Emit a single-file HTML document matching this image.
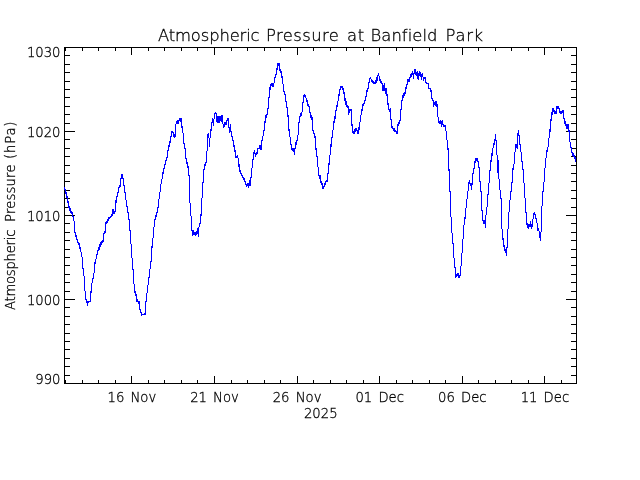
<!DOCTYPE html>
<html lang="en"><head><meta charset="utf-8"><title>Atmospheric Pressure at Banfield Park</title>
<style>
html,body{margin:0;padding:0;background:#fff;}
body{width:640px;height:480px;position:relative;overflow:hidden;font-family:"DejaVu Sans Light","DejaVu Sans","Liberation Sans",sans-serif;font-weight:200;color:#000;-webkit-text-stroke:0.3px #000;}
#frame{position:absolute;left:64px;top:47px;width:511px;height:335px;border:1px solid #000;box-sizing:content-box;}
.t{position:absolute;background:#000;}
.l{position:absolute;white-space:nowrap;line-height:1;font-size:13.2px;}
.yl{text-align:right;width:60px;left:0.5px;}
.xl{text-align:center;width:80px;word-spacing:2px;}
#title span{position:absolute;white-space:nowrap;line-height:1;font-size:16.4px;top:27.5px;}
#ylab{position:absolute;left:0;top:0;width:0;height:0;}
#ylab span{position:absolute;white-space:nowrap;line-height:1;font-size:13.2px;transform-origin:0 0;transform:rotate(-90deg);}
svg{position:absolute;left:0;top:0;}
#txt{position:absolute;left:0;top:0;width:640px;height:480px;will-change:transform;}
</style></head><body>
<div id="frame"></div>
<div id="txt">
<div class="t" style="left:65px;top:47px;width:1px;height:4px"></div>
<div class="t" style="left:65px;top:380px;width:1px;height:4px"></div>
<div class="t" style="left:82px;top:47px;width:1px;height:4px"></div>
<div class="t" style="left:82px;top:380px;width:1px;height:4px"></div>
<div class="t" style="left:98px;top:47px;width:1px;height:4px"></div>
<div class="t" style="left:98px;top:380px;width:1px;height:4px"></div>
<div class="t" style="left:115px;top:47px;width:1px;height:4px"></div>
<div class="t" style="left:115px;top:380px;width:1px;height:4px"></div>
<div class="t" style="left:131px;top:47px;width:1px;height:8px"></div>
<div class="t" style="left:131px;top:376px;width:1px;height:8px"></div>
<div class="t" style="left:148px;top:47px;width:1px;height:4px"></div>
<div class="t" style="left:148px;top:380px;width:1px;height:4px"></div>
<div class="t" style="left:164px;top:47px;width:1px;height:4px"></div>
<div class="t" style="left:164px;top:380px;width:1px;height:4px"></div>
<div class="t" style="left:181px;top:47px;width:1px;height:4px"></div>
<div class="t" style="left:181px;top:380px;width:1px;height:4px"></div>
<div class="t" style="left:197px;top:47px;width:1px;height:4px"></div>
<div class="t" style="left:197px;top:380px;width:1px;height:4px"></div>
<div class="t" style="left:214px;top:47px;width:1px;height:8px"></div>
<div class="t" style="left:214px;top:376px;width:1px;height:8px"></div>
<div class="t" style="left:231px;top:47px;width:1px;height:4px"></div>
<div class="t" style="left:231px;top:380px;width:1px;height:4px"></div>
<div class="t" style="left:247px;top:47px;width:1px;height:4px"></div>
<div class="t" style="left:247px;top:380px;width:1px;height:4px"></div>
<div class="t" style="left:264px;top:47px;width:1px;height:4px"></div>
<div class="t" style="left:264px;top:380px;width:1px;height:4px"></div>
<div class="t" style="left:280px;top:47px;width:1px;height:4px"></div>
<div class="t" style="left:280px;top:380px;width:1px;height:4px"></div>
<div class="t" style="left:297px;top:47px;width:1px;height:8px"></div>
<div class="t" style="left:297px;top:376px;width:1px;height:8px"></div>
<div class="t" style="left:313px;top:47px;width:1px;height:4px"></div>
<div class="t" style="left:313px;top:380px;width:1px;height:4px"></div>
<div class="t" style="left:330px;top:47px;width:1px;height:4px"></div>
<div class="t" style="left:330px;top:380px;width:1px;height:4px"></div>
<div class="t" style="left:346px;top:47px;width:1px;height:4px"></div>
<div class="t" style="left:346px;top:380px;width:1px;height:4px"></div>
<div class="t" style="left:363px;top:47px;width:1px;height:4px"></div>
<div class="t" style="left:363px;top:380px;width:1px;height:4px"></div>
<div class="t" style="left:379px;top:47px;width:1px;height:8px"></div>
<div class="t" style="left:379px;top:376px;width:1px;height:8px"></div>
<div class="t" style="left:396px;top:47px;width:1px;height:4px"></div>
<div class="t" style="left:396px;top:380px;width:1px;height:4px"></div>
<div class="t" style="left:412px;top:47px;width:1px;height:4px"></div>
<div class="t" style="left:412px;top:380px;width:1px;height:4px"></div>
<div class="t" style="left:429px;top:47px;width:1px;height:4px"></div>
<div class="t" style="left:429px;top:380px;width:1px;height:4px"></div>
<div class="t" style="left:445px;top:47px;width:1px;height:4px"></div>
<div class="t" style="left:445px;top:380px;width:1px;height:4px"></div>
<div class="t" style="left:462px;top:47px;width:1px;height:8px"></div>
<div class="t" style="left:462px;top:376px;width:1px;height:8px"></div>
<div class="t" style="left:478px;top:47px;width:1px;height:4px"></div>
<div class="t" style="left:478px;top:380px;width:1px;height:4px"></div>
<div class="t" style="left:495px;top:47px;width:1px;height:4px"></div>
<div class="t" style="left:495px;top:380px;width:1px;height:4px"></div>
<div class="t" style="left:511px;top:47px;width:1px;height:4px"></div>
<div class="t" style="left:511px;top:380px;width:1px;height:4px"></div>
<div class="t" style="left:528px;top:47px;width:1px;height:4px"></div>
<div class="t" style="left:528px;top:380px;width:1px;height:4px"></div>
<div class="t" style="left:544px;top:47px;width:1px;height:8px"></div>
<div class="t" style="left:544px;top:376px;width:1px;height:8px"></div>
<div class="t" style="left:561px;top:47px;width:1px;height:4px"></div>
<div class="t" style="left:561px;top:380px;width:1px;height:4px"></div>
<div class="t" style="left:64px;top:375px;width:6px;height:1px"></div>
<div class="t" style="left:571px;top:375px;width:6px;height:1px"></div>
<div class="t" style="left:64px;top:366px;width:6px;height:1px"></div>
<div class="t" style="left:571px;top:366px;width:6px;height:1px"></div>
<div class="t" style="left:64px;top:358px;width:6px;height:1px"></div>
<div class="t" style="left:571px;top:358px;width:6px;height:1px"></div>
<div class="t" style="left:64px;top:349px;width:6px;height:1px"></div>
<div class="t" style="left:571px;top:349px;width:6px;height:1px"></div>
<div class="t" style="left:64px;top:341px;width:6px;height:1px"></div>
<div class="t" style="left:571px;top:341px;width:6px;height:1px"></div>
<div class="t" style="left:64px;top:333px;width:6px;height:1px"></div>
<div class="t" style="left:571px;top:333px;width:6px;height:1px"></div>
<div class="t" style="left:64px;top:324px;width:6px;height:1px"></div>
<div class="t" style="left:571px;top:324px;width:6px;height:1px"></div>
<div class="t" style="left:64px;top:316px;width:6px;height:1px"></div>
<div class="t" style="left:571px;top:316px;width:6px;height:1px"></div>
<div class="t" style="left:64px;top:307px;width:6px;height:1px"></div>
<div class="t" style="left:571px;top:307px;width:6px;height:1px"></div>
<div class="t" style="left:64px;top:299px;width:11px;height:1px"></div>
<div class="t" style="left:566px;top:299px;width:11px;height:1px"></div>
<div class="t" style="left:64px;top:291px;width:6px;height:1px"></div>
<div class="t" style="left:571px;top:291px;width:6px;height:1px"></div>
<div class="t" style="left:64px;top:282px;width:6px;height:1px"></div>
<div class="t" style="left:571px;top:282px;width:6px;height:1px"></div>
<div class="t" style="left:64px;top:274px;width:6px;height:1px"></div>
<div class="t" style="left:571px;top:274px;width:6px;height:1px"></div>
<div class="t" style="left:64px;top:265px;width:6px;height:1px"></div>
<div class="t" style="left:571px;top:265px;width:6px;height:1px"></div>
<div class="t" style="left:64px;top:257px;width:6px;height:1px"></div>
<div class="t" style="left:571px;top:257px;width:6px;height:1px"></div>
<div class="t" style="left:64px;top:249px;width:6px;height:1px"></div>
<div class="t" style="left:571px;top:249px;width:6px;height:1px"></div>
<div class="t" style="left:64px;top:240px;width:6px;height:1px"></div>
<div class="t" style="left:571px;top:240px;width:6px;height:1px"></div>
<div class="t" style="left:64px;top:232px;width:6px;height:1px"></div>
<div class="t" style="left:571px;top:232px;width:6px;height:1px"></div>
<div class="t" style="left:64px;top:223px;width:6px;height:1px"></div>
<div class="t" style="left:571px;top:223px;width:6px;height:1px"></div>
<div class="t" style="left:64px;top:215px;width:11px;height:1px"></div>
<div class="t" style="left:566px;top:215px;width:11px;height:1px"></div>
<div class="t" style="left:64px;top:207px;width:6px;height:1px"></div>
<div class="t" style="left:571px;top:207px;width:6px;height:1px"></div>
<div class="t" style="left:64px;top:198px;width:6px;height:1px"></div>
<div class="t" style="left:571px;top:198px;width:6px;height:1px"></div>
<div class="t" style="left:64px;top:190px;width:6px;height:1px"></div>
<div class="t" style="left:571px;top:190px;width:6px;height:1px"></div>
<div class="t" style="left:64px;top:181px;width:6px;height:1px"></div>
<div class="t" style="left:571px;top:181px;width:6px;height:1px"></div>
<div class="t" style="left:64px;top:173px;width:6px;height:1px"></div>
<div class="t" style="left:571px;top:173px;width:6px;height:1px"></div>
<div class="t" style="left:64px;top:165px;width:6px;height:1px"></div>
<div class="t" style="left:571px;top:165px;width:6px;height:1px"></div>
<div class="t" style="left:64px;top:156px;width:6px;height:1px"></div>
<div class="t" style="left:571px;top:156px;width:6px;height:1px"></div>
<div class="t" style="left:64px;top:148px;width:6px;height:1px"></div>
<div class="t" style="left:571px;top:148px;width:6px;height:1px"></div>
<div class="t" style="left:64px;top:139px;width:6px;height:1px"></div>
<div class="t" style="left:571px;top:139px;width:6px;height:1px"></div>
<div class="t" style="left:64px;top:131px;width:11px;height:1px"></div>
<div class="t" style="left:566px;top:131px;width:11px;height:1px"></div>
<div class="t" style="left:64px;top:123px;width:6px;height:1px"></div>
<div class="t" style="left:571px;top:123px;width:6px;height:1px"></div>
<div class="t" style="left:64px;top:114px;width:6px;height:1px"></div>
<div class="t" style="left:571px;top:114px;width:6px;height:1px"></div>
<div class="t" style="left:64px;top:106px;width:6px;height:1px"></div>
<div class="t" style="left:571px;top:106px;width:6px;height:1px"></div>
<div class="t" style="left:64px;top:97px;width:6px;height:1px"></div>
<div class="t" style="left:571px;top:97px;width:6px;height:1px"></div>
<div class="t" style="left:64px;top:89px;width:6px;height:1px"></div>
<div class="t" style="left:571px;top:89px;width:6px;height:1px"></div>
<div class="t" style="left:64px;top:81px;width:6px;height:1px"></div>
<div class="t" style="left:571px;top:81px;width:6px;height:1px"></div>
<div class="t" style="left:64px;top:72px;width:6px;height:1px"></div>
<div class="t" style="left:571px;top:72px;width:6px;height:1px"></div>
<div class="t" style="left:64px;top:64px;width:6px;height:1px"></div>
<div class="t" style="left:571px;top:64px;width:6px;height:1px"></div>
<div class="t" style="left:64px;top:55px;width:6px;height:1px"></div>
<div class="t" style="left:571px;top:55px;width:6px;height:1px"></div>
<div class="l yl" style="top:45.7px">1030</div>
<div class="l yl" style="top:125.7px">1020</div>
<div class="l yl" style="top:209.7px">1010</div>
<div class="l yl" style="top:293.7px">1000</div>
<div class="l yl" style="top:372.7px">990</div>
<div class="l xl" style="left:91.9px;top:390.7px">16 Nov</div>
<div class="l xl" style="left:174.5px;top:390.7px">21 Nov</div>
<div class="l xl" style="left:257.1px;top:390.7px">26 Nov</div>
<div class="l xl" style="left:339.7px;top:390.7px">01 Dec</div>
<div class="l xl" style="left:422.3px;top:390.7px">06 Dec</div>
<div class="l xl" style="left:504.9px;top:390.7px">11 Dec</div>
<div class="l xl" style="left:280.75px;top:406.7px">2025</div>
<div id="title">
<span style="left:158px;letter-spacing:-0.15px">Atmospheric</span>
<span style="left:266px;letter-spacing:0.41px">Pressure</span>
<span style="left:347px;letter-spacing:0.6px">at</span>
<span style="left:370.5px;letter-spacing:0.07px">Banfield</span>
<span style="left:445.5px;letter-spacing:0.73px">Park</span>
</div>
<div id="ylab">
<span style="left:4.2px;top:309.8px;letter-spacing:-0.25px">Atmospheric</span>
<span style="left:4.2px;top:222px;letter-spacing:0.17px">Pressure</span>
<span style="left:4.2px;top:159px;letter-spacing:0.85px">(hPa)</span>
</div>
</div>
<svg width="640" height="480" viewBox="0 0 640 480"><path d="M64.5 187V190M65.5 189V194M66.5 192V198M67.5 196V203M68.5 201V208M69.5 206V211M70.5 208V213M71.5 211V214M72.5 212V217M73.5 216V221M74.5 221V233M75.5 232V237M76.5 235V240M77.5 239V243M78.5 242V245M79.5 243V249M80.5 247V252M81.5 252V257M82.5 257V269M83.5 268V276M84.5 276V291M85.5 291V300M86.5 299V303M87.5 301V306M88.5 301V303M89.5 301V302M90.5 291V302M91.5 283V293M92.5 278V283M93.5 273V279M94.5 262V273M95.5 259V264M96.5 254V259M97.5 250V255M98.5 247V251M99.5 244V250M100.5 242V247M101.5 241V245M102.5 240V243M103.5 233V242M104.5 231V234M105.5 222V233M106.5 221V224M107.5 219V223M108.5 217V221M109.5 217V219M110.5 216V218M111.5 214V217M112.5 209V216M113.5 209V214M114.5 211V214M115.5 200V212M116.5 196V203M117.5 192V197M118.5 187V193M119.5 185V188M120.5 178V187M121.5 174V179M122.5 174V179M123.5 178V186M124.5 185V193M125.5 192V200M126.5 200V207M127.5 206V213M128.5 212V220M129.5 219V231M130.5 230V244M131.5 244V258M132.5 258V270M133.5 269V284M134.5 284V293M135.5 291V296M136.5 294V302M137.5 299V302M138.5 301V304M139.5 301V310M140.5 309V313M141.5 312V316M142.5 314V315M143.5 314V315M144.5 313V315M145.5 301V315M146.5 293V302M147.5 285V293M148.5 277V285M149.5 269V278M150.5 261V269M151.5 246V262M152.5 238V248M153.5 227V238M154.5 219V227M155.5 215V220M156.5 212V217M157.5 207V213M158.5 199V208M159.5 192V199M160.5 184V192M161.5 179V184M162.5 172V179M163.5 168V174M164.5 164V169M165.5 160V165M166.5 157V161M167.5 150V158M168.5 145V151M169.5 141V147M170.5 136V143M171.5 131V137M172.5 131V133M173.5 132V137M174.5 134V138M175.5 124V137M176.5 121V124M177.5 120V124M178.5 120V124M179.5 118V121M180.5 118V122M181.5 118V128M182.5 126V133M183.5 133V144M184.5 143V149M185.5 148V159M186.5 158V164M187.5 162V168M188.5 166V176M189.5 175V203M190.5 203V216M191.5 216V231M192.5 230V236M193.5 230V235M194.5 232V235M195.5 232V236M196.5 231V235M197.5 228V234M198.5 227V237M199.5 223V227M200.5 214V224M201.5 198V216M202.5 182V198M203.5 169V183M204.5 164V170M205.5 162V166M206.5 151V163M207.5 134V151M208.5 133V138M209.5 138V147M210.5 129V138M211.5 122V131M212.5 118V123M213.5 119V126M214.5 113V119M215.5 112V114M216.5 113V122M217.5 116V123M218.5 116V123M219.5 116V123M220.5 116V121M221.5 115V122M222.5 115V124M223.5 124V128M224.5 122V127M225.5 122V125M226.5 120V125M227.5 118V121M228.5 118V128M229.5 127V133M230.5 124V132M231.5 131V137M232.5 136V141M233.5 140V147M234.5 145V152M235.5 150V158M236.5 156V158M237.5 155V158M238.5 158V167M239.5 164V172M240.5 170V174M241.5 173V176M242.5 175V178M243.5 177V180M244.5 178V182M245.5 181V185M246.5 184V187M247.5 183V186M248.5 183V188M249.5 180V186M250.5 177V186M251.5 168V178M252.5 159V168M253.5 152V160M254.5 150V154M255.5 153V157M256.5 152V155M257.5 148V154M258.5 148V149M259.5 145V149M260.5 145V150M261.5 140V150M262.5 136V141M263.5 130V136M264.5 121V131M265.5 115V123M266.5 114V118M267.5 108V115M268.5 97V109M269.5 87V98M270.5 84V90M271.5 83V86M272.5 83V87M273.5 83V87M274.5 77V83M275.5 74V78M276.5 68V75M277.5 63V70M278.5 63V66M279.5 63V71M280.5 69V73M281.5 71V78M282.5 76V84M283.5 84V92M284.5 91V95M285.5 94V102M286.5 101V108M287.5 107V117M288.5 115V131M289.5 129V137M290.5 137V145M291.5 144V150M292.5 148V151M293.5 148V152M294.5 148V155M295.5 142V149M296.5 140V145M297.5 135V141M298.5 122V135M299.5 116V123M300.5 113V117M301.5 112V116M302.5 102V112M303.5 95V103M304.5 94V97M305.5 95V98M306.5 98V102M307.5 100V106M308.5 104V107M309.5 106V113M310.5 112V118M311.5 115V120M312.5 117V131M313.5 130V134M314.5 133V138M315.5 136V150M316.5 148V157M317.5 156V167M318.5 167V176M319.5 175V179M320.5 175V183M321.5 181V185M322.5 183V189M323.5 186V189M324.5 183V187M325.5 181V185M326.5 180V182M327.5 173V182M328.5 163V174M329.5 155V165M330.5 144V155M331.5 137V147M332.5 130V138M333.5 121V130M334.5 116V123M335.5 110V119M336.5 105V111M337.5 101V107M338.5 94V101M339.5 89V96M340.5 86V90M341.5 86V88M342.5 86V90M343.5 88V94M344.5 92V101M345.5 98V105M346.5 101V107M347.5 105V108M348.5 106V115M349.5 109V113M350.5 109V111M351.5 109V126M352.5 124V133M353.5 131V134M354.5 129V134M355.5 128V132M356.5 128V131M357.5 130V134M358.5 127V134M359.5 122V130M360.5 115V122M361.5 109V115M362.5 104V111M363.5 103V106M364.5 100V104M365.5 96V101M366.5 90V97M367.5 88V92M368.5 82V89M369.5 78V83M370.5 77V79M371.5 79V82M372.5 80V83M373.5 81V84M374.5 82V84M375.5 80V84M376.5 77V83M377.5 75V81M378.5 73V76M379.5 76V81M380.5 79V83M381.5 81V84M382.5 83V91M383.5 85V91M384.5 83V91M385.5 88V94M386.5 88V96M387.5 94V105M388.5 103V110M389.5 109V112M390.5 108V120M391.5 119V128M392.5 126V129M393.5 128V131M394.5 128V132M395.5 130V132M396.5 131V134M397.5 124V134M398.5 122V126M399.5 120V124M400.5 109V121M401.5 100V110M402.5 95V101M403.5 93V98M404.5 92V96M405.5 87V94M406.5 84V89M407.5 79V85M408.5 79V82M409.5 77V82M410.5 74V78M411.5 73V77M412.5 71V75M413.5 73V79M414.5 69V74M415.5 69V75M416.5 72V76M417.5 71V79M418.5 73V80M419.5 71V76M420.5 72V77M421.5 74V80M422.5 73V77M423.5 77V81M424.5 77V79M425.5 77V83M426.5 82V84M427.5 83V84M428.5 83V89M429.5 88V89M430.5 88V92M431.5 90V99M432.5 98V101M433.5 100V107M434.5 102V105M435.5 101V106M436.5 101V107M437.5 104V117M438.5 117V123M439.5 121V124M440.5 120V124M441.5 121V127M442.5 120V125M443.5 124V127M444.5 125V127M445.5 125V131M446.5 131V140M447.5 140V150M448.5 148V171M449.5 169V192M450.5 191V217M451.5 217V233M452.5 233V244M453.5 243V258M454.5 258V268M455.5 267V278M456.5 274V277M457.5 273V276M458.5 273V278M459.5 275V278M460.5 266V276M461.5 253V266M462.5 239V253M463.5 225V239M464.5 217V225M465.5 208V219M466.5 199V208M467.5 191V199M468.5 182V191M469.5 180V184M470.5 183V186M471.5 183V190M472.5 173V185M473.5 168V174M474.5 161V169M475.5 158V163M476.5 158V161M477.5 158V162M478.5 161V168M479.5 167V182M480.5 181V192M481.5 191V211M482.5 210V221M483.5 220V224M484.5 220V224M485.5 215V228M486.5 207V215M487.5 194V207M488.5 183V195M489.5 170V183M490.5 160V171M491.5 153V162M492.5 148V156M493.5 143V148M494.5 139V145M495.5 134V141M496.5 140V155M497.5 155V173M498.5 160V179M499.5 179V190M500.5 190V199M501.5 198V229M502.5 229V240M503.5 238V247M504.5 245V251M505.5 249V253M506.5 247V256M507.5 229V248M508.5 212V229M509.5 200V212M510.5 191V200M511.5 182V192M512.5 168V183M513.5 164V170M514.5 152V164M515.5 144V152M516.5 144V148M517.5 133V149M518.5 130V136M519.5 135V145M520.5 144V152M521.5 152V162M522.5 161V170M523.5 169V183M524.5 183V198M525.5 198V213M526.5 212V225M527.5 223V228M528.5 224V229M529.5 224V227M530.5 221V227M531.5 224V229M532.5 219V227M533.5 213V219M534.5 212V215M535.5 214V219M536.5 218V223M537.5 223V231M538.5 228V231M539.5 231V238M540.5 232V241M541.5 206V232M542.5 191V206M543.5 182V192M544.5 168V182M545.5 158V168M546.5 150V158M547.5 147V152M548.5 138V147M549.5 129V138M550.5 119V132M551.5 112V121M552.5 108V115M553.5 108V112M554.5 110V114M555.5 111V114M556.5 106V114M557.5 106V109M558.5 106V109M559.5 108V113M560.5 111V114M561.5 111V114M562.5 110V113M563.5 110V119M564.5 118V124M565.5 121V126M566.5 124V129M567.5 124V129M568.5 124V132M569.5 130V142M570.5 142V148M571.5 147V153M572.5 152V156M573.5 153V157M574.5 155V159M575.5 157V162" fill="none" stroke="#0000ff" stroke-width="1" shape-rendering="crispEdges"/></svg>
</body></html>
